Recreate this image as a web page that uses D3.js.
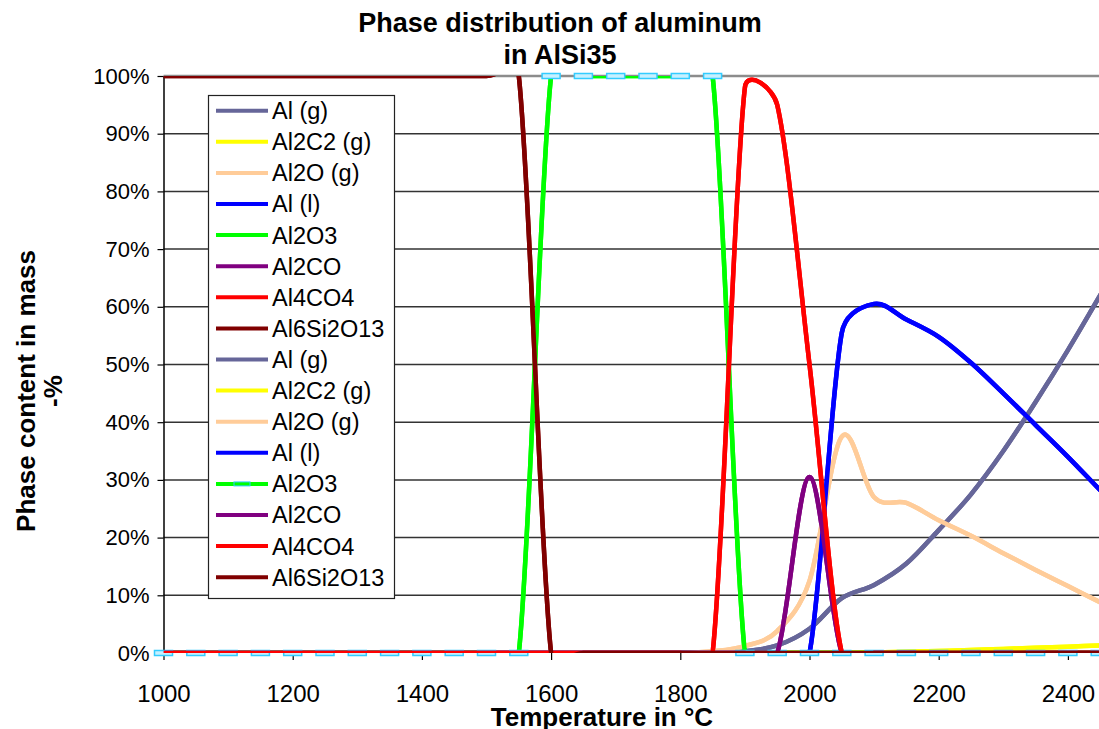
<!DOCTYPE html>
<html>
<head>
<meta charset="utf-8">
<script src="https://cdn.jsdelivr.net/npm/d3@7"></script>
<style>
  body { margin: 0; background: #fff; }
  svg { display: block; font-family: "Liberation Sans", Arial, sans-serif; }
</style>
</head>
<body>
<svg id="chart" width="1099" height="729"></svg>
<script>
// temperatures in °C, one point every 50°
const temps = [1000, 1050, 1100, 1150, 1200, 1250, 1300, 1350, 1400, 1450, 1500,
  1550, 1600, 1650, 1700, 1750, 1800, 1850, 1900, 1950, 2000,
  2050, 2100, 2150, 2200, 2250, 2300, 2350, 2400, 2450, 2500]

// phase content in mass-%
const alG = [0, 0, 0, 0, 0, 0, 0, 0, 0, 0, 0, 0, 0, 0, 0, 0, 0, 0,
  0.3, 1.3, 4.2, 9.5, 11.8, 15.5, 21.3, 27.5, 35, 43.5, 52.5, 62, 71.5]
const al2c2G = [0, 0, 0, 0, 0, 0, 0, 0, 0, 0, 0, 0, 0, 0, 0, 0, 0, 0, 0, 0, 0, 0,
  0.1, 0.2, 0.35, 0.5, 0.7, 0.9, 1.1, 1.3, 1.5]
const al2oG = [0, 0, 0, 0, 0, 0, 0, 0, 0, 0, 0, 0, 0, 0, 0, 0, 0,
  0.3, 1.2, 3.8, 12.5, 37.5, 27, 26, 23, 20.3, 17.3, 14.4, 11.6, 8.8, 6]
const alL = [0, 0, 0, 0, 0, 0, 0, 0, 0, 0, 0, 0, 0, 0, 0, 0, 0, 0, 0, 0, 0,
  55.5, 60.5, 57.8, 54.8, 50.3, 45, 39.5, 34, 28.2, 22.5]
const al2o3 = [0, 0, 0, 0, 0, 0, 0, 0, 0, 0, 0, 0,
  100, 100, 100, 100, 100, 100,
  0, 0, 0, 0, 0, 0, 0, 0, 0, 0, 0, 0, 0]
const al2co = [0, 0, 0, 0, 0, 0, 0, 0, 0, 0, 0, 0, 0, 0, 0, 0, 0, 0, 0, 0,
  30.5, 0, 0, 0, 0, 0, 0, 0, 0, 0, 0]
const al4co4 = [0, 0, 0, 0, 0, 0, 0, 0, 0, 0, 0, 0, 0, 0, 0, 0, 0, 0,
  98, 95, 50, 0, 0, 0, 0, 0, 0, 0, 0, 0, 0]
const al6si2o13 = [100, 100, 100, 100, 100, 100, 100, 100, 100, 100, 100, 100,
  0, 0, 0, 0, 0, 0, 0, 0, 0, 0, 0, 0, 0, 0, 0, 0, 0, 0, 0]

const names = ['Al (g)', 'Al2C2 (g)', 'Al2O (g)', 'Al (l)', 'Al2O3', 'Al2CO', 'Al4CO4', 'Al6Si2O13']
const colors = ['#666699', '#ffff00', '#ffcc99', '#0000ff', '#00ff00', '#800080', '#ff0000', '#800000']
const values = [alG, al2c2G, al2oG, alL, al2o3, al2co, al4co4, al6si2o13]

const xTicks = [1000, 1200, 1400, 1600, 1800, 2000, 2200, 2400]
const yTicks = [0, 10, 20, 30, 40, 50, 60, 70, 80, 90, 100]

// the workbook plots every series twice, the second Al2O3 with markers
const series = []
for (let k = 0; k < 2; k++) {
  names.forEach((name, i) => {
    series.push({ name, color: colors[i], data: values[i], markers: k === 1 && name === 'Al2O3' })
  })
}

const svg = d3.select('#chart')
const plotLeft = 163.5, plotTop = 76, plotBottom = 653

const x = d3.scaleLinear().domain([1000, 2500]).range([plotLeft, plotLeft + 1500 * 0.646])
const y = d3.scaleLinear().domain([0, 100]).range([plotBottom, plotTop])

svg.append('defs').append('clipPath').attr('id', 'plot')
  .append('rect')
  .attr('x', plotLeft).attr('y', plotTop)
  .attr('width', 1099 - plotLeft).attr('height', plotBottom - plotTop)

// grid
svg.append('g')
  .selectAll('line')
  .data(yTicks.filter(d => d > 0 && d < 100))
  .join('line')
  .attr('x1', plotLeft).attr('x2', 1099)
  .attr('y1', d => y(d)).attr('y2', d => y(d))
  .attr('stroke', '#333').attr('stroke-width', 1.5)

svg.append('line')
  .attr('x1', plotLeft).attr('x2', 1099)
  .attr('y1', y(100)).attr('y2', y(100))
  .attr('stroke', '#8c8c8c').attr('stroke-width', 2.5)

// axes
const yAxis = svg.append('g')
  .attr('transform', `translate(${plotLeft},0)`)
  .call(d3.axisLeft(y).tickValues(yTicks).tickFormat(d => d + '%').tickSize(6).tickSizeOuter(0).tickPadding(8))
yAxis.select('.domain').attr('stroke', '#000').attr('stroke-width', 1.5)
yAxis.selectAll('.tick line').attr('stroke', '#000').attr('stroke-width', 1.2)
yAxis.selectAll('text').attr('font-size', 22).attr('fill', '#000')
  .attr('font-family', '"Liberation Sans", Arial, sans-serif')

const xAxis = svg.append('g')
  .attr('transform', `translate(0,${plotBottom})`)
  .call(d3.axisBottom(x).tickValues(xTicks).tickFormat(d3.format('d')).tickSize(7).tickSizeOuter(0).tickPadding(25))
xAxis.select('.domain').remove()
xAxis.selectAll('.tick line').attr('stroke', '#000').attr('stroke-width', 1.2)
xAxis.selectAll('text').attr('font-size', 24).attr('fill', '#000')
  .attr('font-family', '"Liberation Sans", Arial, sans-serif')

// Excel-like smoothing: Catmull-Rom tangents, shortened on short segments
function smoothPath(vals) {
  const pts = vals.map((v, i) => [x(temps[i]), y(v)])
  const tan = pts.map((pt, i) => {
    const a = pts[Math.max(i - 1, 0)]
    const b = pts[Math.min(i + 1, pts.length - 1)]
    return [(b[0] - a[0]) / 6, (b[1] - a[1]) / 6]
  })
  const p = d3.path()
  p.moveTo(pts[0][0], pts[0][1])
  for (let i = 0; i < pts.length - 1; i++) {
    const p0 = pts[i], p1 = pts[i + 1]
    const len = Math.hypot(p1[0] - p0[0], p1[1] - p0[1])
    const s0 = Math.min(1, 0.5 * len / Math.hypot(tan[i][0], tan[i][1]))
    const s1 = Math.min(1, 0.5 * len / Math.hypot(tan[i + 1][0], tan[i + 1][1]))
    p.bezierCurveTo(
      p0[0] + tan[i][0] * s0, p0[1] + tan[i][1] * s0,
      p1[0] - tan[i + 1][0] * s1, p1[1] - tan[i + 1][1] * s1,
      p1[0], p1[1])
  }
  return p.toString()
}

// series
const plot = svg.append('g')
series.forEach(s => {
  plot.append('path')
    .attr('d', smoothPath(s.data))
    .attr('fill', 'none')
    .attr('stroke', s.color)
    .attr('stroke-width', 4.5)
    .attr('stroke-linejoin', 'round')
    .attr('clip-path', 'url(#plot)')
  if (s.markers) {
    plot.append('g')
      .selectAll('rect')
      .data(s.data)
      .join('rect')
      .attr('x', (d, i) => x(temps[i]) - 9)
      .attr('y', d => y(d) - 2.5)
      .attr('width', 18).attr('height', 5)
      .attr('fill', '#c6f0ff')
      .attr('stroke', '#33ccff')
      .attr('stroke-width', 1.5)
  }
})

// legend
const legend = svg.append('g')
legend.append('rect')
  .attr('x', 208.5).attr('y', 95.5)
  .attr('width', 186).attr('height', 503)
  .attr('fill', '#fff').attr('stroke', '#222').attr('stroke-width', 1.2)

const rows = legend.selectAll('g.row')
  .data(series)
  .join('g')
  .attr('class', 'row')
  .attr('transform', (d, i) => `translate(0,${110.7 + i * 31.1})`)
rows.append('line')
  .attr('x1', 216).attr('x2', 268)
  .attr('stroke', d => d.color).attr('stroke-width', 4)
rows.filter(d => d.markers).append('rect')
  .attr('x', 234).attr('y', -2).attr('width', 16).attr('height', 4)
  .attr('fill', 'none').attr('stroke', '#33ccff').attr('stroke-width', 1)
rows.append('text')
  .attr('x', 272).attr('dy', '0.36em')
  .attr('font-size', 23.5)
  .text(d => d.name)

// titles
const title = svg.append('text')
  .attr('text-anchor', 'middle')
  .attr('font-size', 27).attr('font-weight', 'bold')
title.append('tspan').attr('x', 560).attr('y', 32).text('Phase distribution of aluminum')
title.append('tspan').attr('x', 560).attr('y', 64).text('in AlSi35')

svg.append('text')
  .attr('transform', 'translate(35,391) rotate(-90)')
  .attr('text-anchor', 'middle')
  .attr('font-size', 26).attr('font-weight', 'bold')
  .text('Phase content in mass')
svg.append('text')
  .attr('transform', 'translate(62,391) rotate(-90)')
  .attr('text-anchor', 'middle')
  .attr('font-size', 26).attr('font-weight', 'bold')
  .text('-%')

svg.append('text')
  .attr('x', 602).attr('y', 726)
  .attr('text-anchor', 'middle')
  .attr('font-size', 26).attr('font-weight', 'bold')
  .text('Temperature in °C')
</script>
</body>
</html>
